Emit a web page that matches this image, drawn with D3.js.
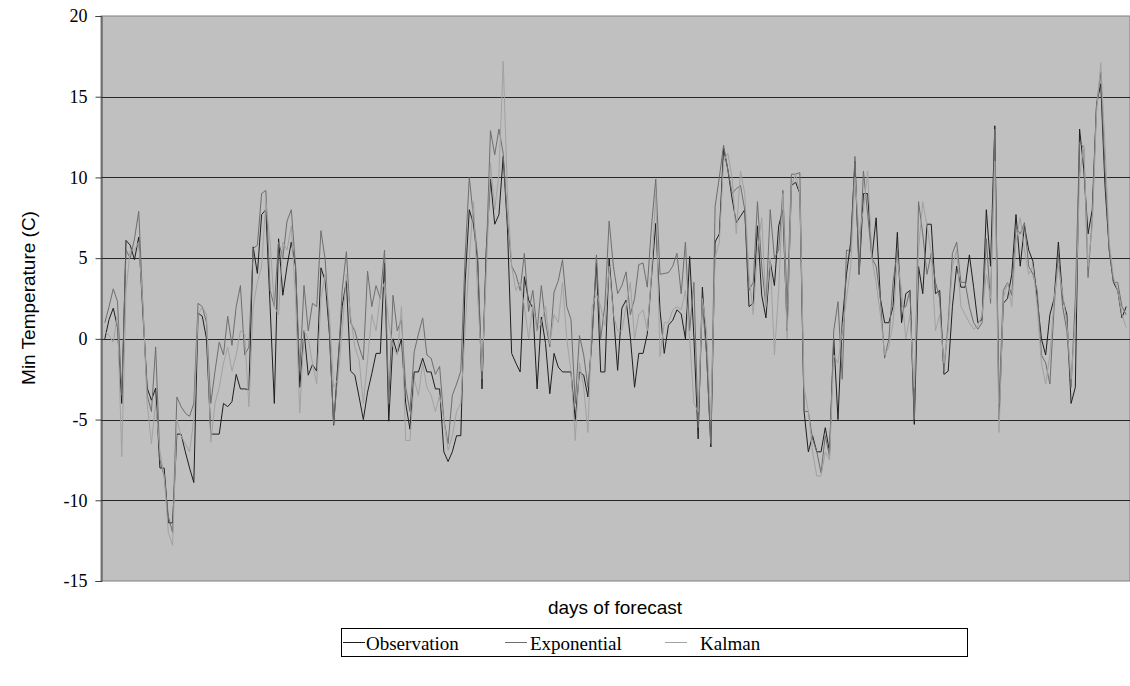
<!DOCTYPE html>
<html>
<head>
<meta charset="utf-8">
<script src="https://cdn.jsdelivr.net/npm/d3@7"></script>
<style>
  body { margin: 0; background: #fff; }
  svg text { fill: #000; }
</style>
</head>
<body>
<svg id="chart" width="1130" height="686"></svg>
<script>
// the data (one value per forecast day)
const observation = [
  0, 1.2, 1.9, 0.7, -4, 6.1, 5.8, 4.9, 6.3, 1.5,
  -3.05, -3.8, -3.05, -8, -8, -11.4, -11.4, -5.9, -5.9, -7,
  -8, -8.9, 1.6, 1.4, 0, -5.9, -5.9, -5.9, -4, -4.2,
  -3.9, -2.2, -3.1, -3.1, -3.15, 5.7, 4.05, 7.7, 8, 2,
  -4, 6.2, 2.7, 4.5, 6, 4.5, -3, 0.5, -2.25, -1.6,
  -2, 4.4, 3.6, 0.3, -5.35, -1.5, 2, 3.6, -2, -2.25,
  -3.6, -5, -3.3, -2.15, -0.9, -0.9, 4.7, -5.1, 0, -0.9,
  0, -4, -5.6, -2.05, -2.05, -1.2, -2.05, -2.05, -3.1, -3.1,
  -7, -7.6, -7, -6, -6, 3.4, 8, 7.1, 4.7, -3.1,
  5.5, 9.9, 7.1, 7.7, 11.3, 6.9, -0.9, -1.5, -2.05, 3.85,
  2.4, 1.9, -3.1, 1.35, -0.3, -3.4, -0.9, -1.75, -2.05, -2.05,
  -2.05, -5, -2.05, -2.25, -3.6, 0.3, 4.7, -2.05, -2.05, 5,
  1.6, -1.95, 1.9, 2.4, 0.1, -3, -0.9, -0.9, 0.3, 3.85,
  7.15, 1.8, -0.9, 0.85, 1.15, 1.8, 1.55, 0, 5.1, 0.1,
  -6.2, 3.2, -0.9, -6.7, 6, 6.5, 11.8, 10.5, 8.7, 7.2,
  7.6, 8, 2, 2.2, 7, 2.7, 1.3, 4.8, 3.3, 7,
  8, 0.5, 9.5, 9.7, 9, -4.5, -7, -6, -7, -7,
  -5.5, -7, 0, -5, 1, 4, 6, 11, 4, 9,
  9, 5, 7.5, 2.5, 1, 1, 2, 6.6, 1, 2.8,
  3, -5.3, 4.5, 2.8, 7.1, 7.1, 2.8, 3, -2.2, -2,
  2, 4.5, 3.2, 3.2, 5.2, 3.2, 1, 1.2, 8, 4.5,
  13.2, -5, 2.2, 2.5, 4, 7.7, 4.5, 7, 5.5, 4.8,
  2.5, 0, -1, 1.5, 2.5, 6, 2.5, 1.5, -4, -3,
  13, 10.5, 6.5, 8, 14.5, 15.8, 9.5, 5.5, 3.5, 3,
  1.3, 2
];

const exponential = [
  1, 2, 3.1, 2.3, -3.5, 5.5, 5, 6.2, 7.9, 2,
  -3.5, -4.5, -0.5, -7.5, -8.5, -11, -12, -3.6, -4.2, -4.6,
  -4.8, -4, 2.2, 2, 1, -4, -2, -0.2, -1, 1.4,
  -0.4, 2, 3.3, -1, -0.5, 5.6, 5.8, 9, 9.2, 3,
  2, 6, 5, 7.3, 8, 4.5, -2, 3.3, 0.5, 2.2,
  2, 6.7, 4.9, 0.5, -5.3, -2, 3, 5.4, 1, 0.5,
  -0.5, -1.3, 4.2, 2, 3.3, 2.5, 5.5, -4, 2.7, 0.5,
  1.2, -3, -4.5, -0.8, 0.3, 1.3, -1, -1.2, -2.2, -1.7,
  -5, -6.5, -3.5, -2.8, -2, 5, 10, 7.5, 5, -2.5,
  5, 12.9, 11.4, 13, 11.5, 7.4, 4.5, 4, 3, 5.3,
  1.7, 3, 0.5, 3.3, 1, -0.5, 2.9, 3.6, 4.9, 2,
  1.2, -4, 0.2, -1, -3, 0, 5.2, 0, 2.1, 7.3,
  4.5, 2.8, 3.3, 4.15, 1.5, 2.5, 4.6, 4.7, 3.2, 7,
  9.9, 4, 4.05, 4.1, 4.5, 5.3, 2.8, 6, 0.5, 3.5,
  -5.5, 2.2, -1, -6.5, 8.2, 10, 12, 10.5, 9, 9.3,
  9.5, 8, 3, 3.5, 8.5, 4.5, 2, 8, 5, 5.5,
  9.2, 2, 10.2, 10.2, 10.3, -4.5, -4.5, -6.2, -7, -8.3,
  -6, -7.3, 0.5, 2.3, -2.5, 5.5, 5.4, 11.3, 4, 10.4,
  7.7, 5, 4.5, 2.5, -1.2, 0, 3.5, 5.5, 2, 2,
  3, -5, 8.5, 6.5, 4, 5.3, 3.5, 2.5, -2, 1,
  5.3, 6, 3.5, 3.5, 2, 1, 0.6, 1, 6.2, 2.2,
  13, -4, 3, 3.5, 2.7, 6.9, 6.5, 7.2, 4.5, 4,
  3, -1, -1.5, -2.8, 2, 5.3, 2, 0.5, -3, 2.5,
  12.2, 11.8, 3.8, 7.5, 14.5, 16.5, 10.5, 5.5, 3.5, 3.5,
  2, 1.5
];

const kalman = [
  0.5, 0.2, -0.2, 1.5, -7.3, 3, 5.5, 5.5, 6, 2,
  -4, -6.5, -4, -7, -8.5, -12, -12.8, -5, -6, -6.5,
  -7, -5, 1.5, 2, 1.5, -6.4, -4, -3, -1.5, -0.5,
  -2, -1, 0.5, 0.3, -4.2, 2, 3.5, 4.5, 8.5, 6,
  2, 1.5, 6, 5.5, 7, 2.5, -4.6, 0.5, 0, -1.5,
  -2.8, 2.5, 4, 1.5, -3, -2.5, 0.5, 4, 1.4, -0.5,
  -1.3, -4, -1.3, 1.5, 0.5, 2.7, 3.5, 1, -0.5, -1,
  2, -6.3, -6.3, -2.5, -3.5, -1.5, -3, -3.5, -4.5, -3.5,
  -5, -6.9, -6, -4.5, -4, 0.5, 5, 8.5, 2.5, -2,
  4, 10.9, 8, 10.2, 17.2, 9, 4.5, 3, 3.5, 2,
  0, 2.1, 0.5, 1, 2, -0.3, 1.5, 1, 3.5, 0,
  -2, -6.3, -1.5, -3, -5.8, 2, 2.8, 2, 0.8, 4.5,
  1.5, 0.5, 0.5, 2, 3.5, 0, 1.5, 1.8, 0.5, 4,
  9, -1.1, 1, 1, 1.8, 2, 1.8, 3, 0, -4,
  -4.5, 2.5, 0.5, -5, 5, 6, 11, 11.5, 10, 6.5,
  10.4, 9, 4, 1.5, 5.5, 7.5, 2, 5, -1, 3,
  9, 0, 9.5, 10.2, 9, -3, -4.5, -7, -8.5, -8.5,
  -7, -7.5, -1, -1.5, 0.5, 2.5, 4.5, 10, 6.5, 8,
  10.4, 5, 3.5, 1.5, -1, -0.5, 1, 5, 3, 0,
  1.5, -3, 5.5, 8.5, 7, 5.3, 0.5, 1.5, -1.5, 0.5,
  4.5, 5.5, 2, 1.5, 1, 0.6, 0.8, 1.5, 4, 2.5,
  11, -5.8, 2.5, 3.5, 2, 6, 7.5, 5.5, 4, 4.5,
  2, -1.5, -2.8, -1, 2.5, 4.5, 2.8, 1, -2.5, 1,
  10, 12, 4.5, 7, 14, 17.1, 12, 6, 3.8, 3,
  1.5, 0.7
];

const yTicks = [-15, -10, -5, 0, 5, 10, 15, 20];
const seriesNames = ["Observation", "Exponential", "Kalman"];

// The svg
const svg = d3.select("#chart");
const plot = { left: 101, right: 1130, top: 16, bottom: 581 };

const days = d3.range(observation.length);

let x = d3.scalePoint()
  .domain(days)
  .range([plot.left, plot.right])
  .padding(0.9);

let y = d3.scaleLinear()
  .domain([-15, 20])
  .range([plot.bottom, plot.top]);

const colors = d3.scaleOrdinal()
  .domain(seriesNames)
  .range(["#1e1e1e", "#6e6e6e", "#a2a2a2"]);

// plot background
svg.append("rect")
  .attr("x", plot.left)
  .attr("y", plot.top)
  .attr("width", plot.right - plot.left)
  .attr("height", plot.bottom - plot.top)
  .attr("fill", "#c0c0c0")
  .attr("stroke", "#808080")
  .attr("stroke-width", 1);

// horizontal grid lines
svg.append("g")
  .selectAll("line")
  .data(yTicks.filter(d => d > -15 && d < 20))
  .enter()
  .append("line")
  .attr("x1", plot.left)
  .attr("x2", plot.right)
  .attr("y1", d => Math.round(y(d)) + 0.5)
  .attr("y2", d => Math.round(y(d)) + 0.5)
  .attr("stroke", "#262626")
  .attr("stroke-width", 1);

// y axis, plain hyphen for negatives like the original
const yAxis = svg.append("g")
  .attr("transform", `translate(${plot.left + 0.5},0)`)
  .call(d3.axisLeft(y).tickValues(yTicks).tickSize(6).tickPadding(8)
    .tickFormat(d => String(d)));

yAxis.select(".domain").attr("stroke", "#404040");
yAxis.selectAll(".tick line").attr("stroke", "#404040");
yAxis.selectAll(".tick text")
  .style("font-family", "'Liberation Serif', 'Times New Roman', serif")
  .style("font-size", "18px")
  .attr("fill", "#000");

// the three series
const line = d3.line()
  .x((d, i) => x(i))
  .y(d => y(d));

const seriesData = [observation, exponential, kalman];

svg.append("g")
  .selectAll("path")
  .data(seriesData)
  .enter()
  .append("path")
  .attr("d", line)
  .attr("fill", "none")
  .attr("stroke", (d, i) => colors(seriesNames[i]))
  .attr("stroke-width", 1)
  .attr("stroke-linejoin", "miter");

// axis titles
svg.append("text")
  .attr("x", 615)
  .attr("y", 614)
  .attr("text-anchor", "middle")
  .style("font-family", "'Liberation Sans', Arial, sans-serif")
  .style("font-size", "19px")
  .text("days of forecast");

svg.append("text")
  .attr("transform", "translate(35,298) rotate(-90)")
  .attr("text-anchor", "middle")
  .style("font-family", "'Liberation Sans', Arial, sans-serif")
  .style("font-size", "19px")
  .text("Min Temperature (C)");

// legend
const legend = svg.append("g");
legend.append("rect")
  .attr("x", 341.5)
  .attr("y", 628.5)
  .attr("width", 626)
  .attr("height", 28)
  .attr("fill", "#fff")
  .attr("stroke", "#000")
  .attr("stroke-width", 1);

const legendX = [343, 505, 665];
const textX = [366, 530, 700];

seriesNames.forEach(function (name, i) {
  legend.append("line")
    .attr("x1", legendX[i])
    .attr("x2", legendX[i] + 22)
    .attr("y1", 642.5)
    .attr("y2", 642.5)
    .attr("stroke", colors(name))
    .attr("stroke-width", 1);
  legend.append("text")
    .attr("x", textX[i])
    .attr("y", 650)
    .style("font-family", "'Liberation Serif', 'Times New Roman', serif")
    .style("font-size", "19px")
    .text(name);
});
</script>
</body>
</html>
